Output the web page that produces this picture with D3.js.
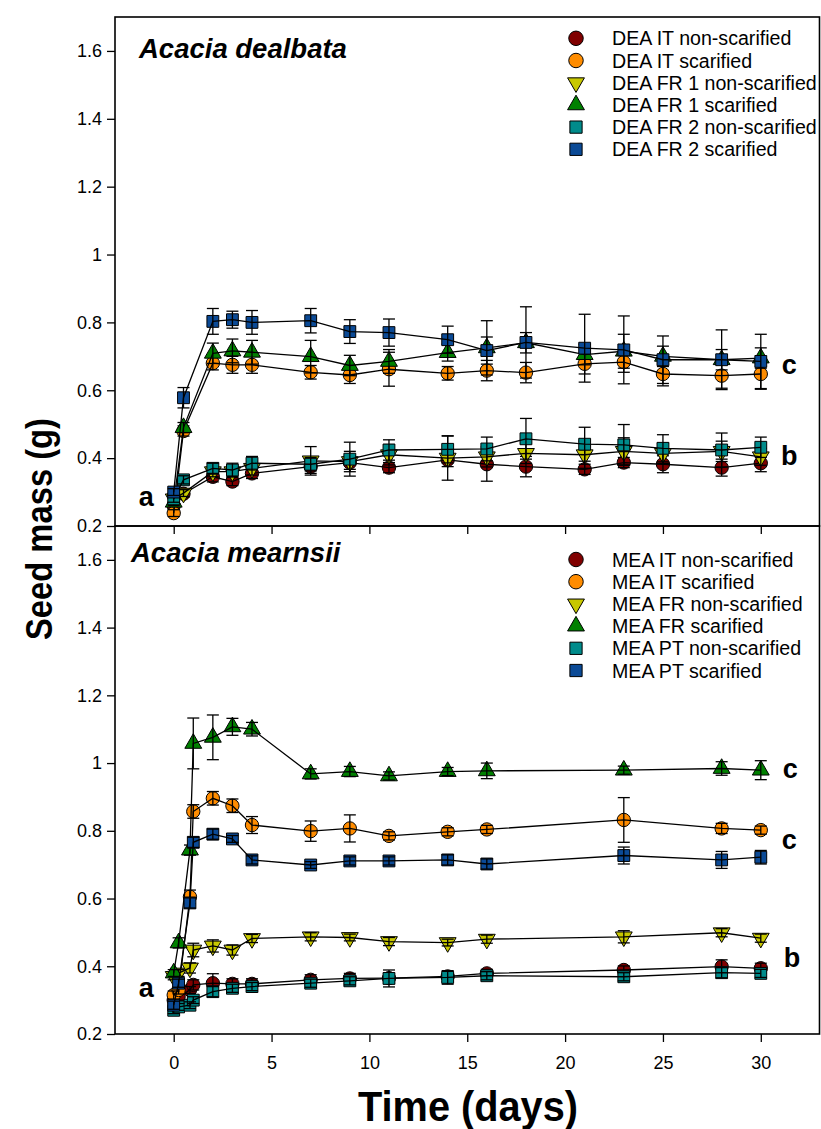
<!DOCTYPE html>
<html><head><meta charset="utf-8">
<script src="https://cdn.jsdelivr.net/npm/d3@7"></script>
<style>
body{margin:0;background:#fff}
svg{display:block}
text{font-family:"Liberation Sans",Arial,Helvetica,sans-serif}
</style>
</head><body>
<svg id="chart" width="821" height="1129"></svg>
<script>
// ---------- data ----------
const daysTop    = [0, 0.5, 2, 3, 4, 7, 9, 11, 14, 16, 18, 21, 23, 25, 28, 30];
const daysBottom = [0, 0.25, 0.83, 1, 2, 3, 4, 7, 9, 11, 14, 16, 23, 28, 30];

const xTicks = [0, 5, 10, 15, 20, 25, 30];
const yTicks = [0.2, 0.4, 0.6, 0.8, 1.0, 1.2, 1.4, 1.6];
const yTickLabels = ["0.2", "0.4", "0.6", "0.8", "1", "1.2", "1.4", "1.6"];

const namesTop = ["DEA IT non-scarified", "DEA IT scarified", "DEA FR 1 non-scarified",
                  "DEA FR 1 scarified", "DEA FR 2 non-scarified", "DEA FR 2 scarified"];
const namesBottom = ["MEA IT non-scarified", "MEA IT scarified", "MEA FR non-scarified",
                     "MEA FR scarified", "MEA PT non-scarified", "MEA PT scarified"];

// Acacia dealbata
const deaItNon      = [0.26, 0.295, 0.345, 0.331, 0.355, 0.375, 0.387, 0.372, 0.395, 0.382, 0.375, 0.367, 0.387, 0.382, 0.372, 0.385];
const deaItNonErr   = [0.01, 0.01, 0.015, 0.012, 0.015, 0.02, 0.02, 0.015, 0.02, 0.05, 0.03, 0.015, 0.015, 0.025, 0.025, 0.025];
const deaItScar     = [0.238, 0.48, 0.68, 0.675, 0.675, 0.653, 0.645, 0.662, 0.65, 0.658, 0.652, 0.678, 0.683, 0.648, 0.643, 0.648];
const deaItScarErr  = [0.01, 0.015, 0.02, 0.025, 0.025, 0.02, 0.025, 0.05, 0.02, 0.03, 0.03, 0.03, 0.03, 0.035, 0.037, 0.045];
const deaFr1Non     = [0.28, 0.297, 0.36, 0.36, 0.37, 0.392, 0.39, 0.41, 0.40, 0.404, 0.414, 0.41, 0.42, 0.414, 0.42, 0.404];
const deaFr1NonErr  = [0.01, 0.01, 0.015, 0.015, 0.02, 0.042, 0.03, 0.03, 0.065, 0.03, 0.03, 0.04, 0.04, 0.03, 0.03, 0.025];
const deaFr1Scar    = [0.27, 0.49, 0.709, 0.716, 0.712, 0.699, 0.673, 0.685, 0.711, 0.725, 0.74, 0.705, 0.715, 0.70, 0.69, 0.695];
const deaFr1ScarErr = [0.01, 0.015, 0.03, 0.035, 0.035, 0.048, 0.03, 0.035, 0.025, 0.08, 0.03, 0.03, 0.05, 0.03, 0.03, 0.03];
const deaFr2Non     = [0.28, 0.336, 0.37, 0.365, 0.385, 0.382, 0.397, 0.424, 0.426, 0.427, 0.457, 0.441, 0.439, 0.429, 0.424, 0.432];
const deaFr2NonErr  = [0.01, 0.012, 0.015, 0.02, 0.02, 0.02, 0.05, 0.03, 0.04, 0.035, 0.06, 0.05, 0.06, 0.04, 0.05, 0.03];
const deaFr2Scar    = [0.30, 0.578, 0.803, 0.808, 0.80, 0.805, 0.773, 0.77, 0.749, 0.717, 0.741, 0.724, 0.719, 0.69, 0.69, 0.685];
const deaFr2ScarErr = [0.01, 0.03, 0.038, 0.025, 0.035, 0.036, 0.035, 0.04, 0.04, 0.04, 0.105, 0.1, 0.1, 0.07, 0.088, 0.08];

// Acacia mearnsii
const meaItNon      = [0.30, 0.31, 0.33, 0.345, 0.35, 0.348, 0.348, 0.36, 0.364, 0.365, 0.37, 0.379, 0.389, 0.399, 0.394];
const meaItNonErr   = [0.01, 0.01, 0.01, 0.015, 0.028, 0.015, 0.015, 0.015, 0.015, 0.015, 0.015, 0.012, 0.012, 0.02, 0.015];
const meaItScar     = [0.315, 0.33, 0.605, 0.857, 0.896, 0.874, 0.817, 0.799, 0.807, 0.785, 0.797, 0.804, 0.832, 0.807, 0.802];
const meaItScarErr  = [0.012, 0.012, 0.02, 0.02, 0.02, 0.02, 0.025, 0.03, 0.04, 0.012, 0.012, 0.012, 0.066, 0.015, 0.012];
const meaFrNon      = [0.37, 0.38, 0.395, 0.448, 0.46, 0.448, 0.482, 0.487, 0.485, 0.473, 0.47, 0.48, 0.487, 0.499, 0.483];
const meaFrNonErr   = [0.01, 0.01, 0.015, 0.02, 0.018, 0.015, 0.012, 0.012, 0.01, 0.012, 0.01, 0.012, 0.018, 0.012, 0.012];
const meaFrScar     = [0.38, 0.469, 0.743, 1.058, 1.076, 1.107, 1.10, 0.968, 0.975, 0.962, 0.975, 0.977, 0.979, 0.984, 0.979];
const meaFrScarErr  = [0.01, 0.015, 0.015, 0.075, 0.066, 0.025, 0.02, 0.015, 0.015, 0.012, 0.012, 0.023, 0.012, 0.02, 0.028];
const meaPtNon      = [0.27, 0.28, 0.285, 0.30, 0.325, 0.335, 0.34, 0.35, 0.357, 0.364, 0.367, 0.372, 0.369, 0.381, 0.379];
const meaPtNonErr   = [0.01, 0.01, 0.01, 0.01, 0.015, 0.012, 0.012, 0.012, 0.012, 0.025, 0.02, 0.012, 0.012, 0.015, 0.012];
const meaPtScar     = [0.285, 0.35, 0.587, 0.766, 0.79, 0.776, 0.714, 0.699, 0.711, 0.711, 0.714, 0.702, 0.727, 0.714, 0.722];
const meaPtScarErr  = [0.012, 0.012, 0.015, 0.015, 0.015, 0.01, 0.012, 0.01, 0.012, 0.012, 0.015, 0.015, 0.025, 0.025, 0.02];

// significance letters (day, value)
const lettersTop    = [{t:"a", d:-1.4, v:0.287}, {t:"c", d:31.45, v:0.678}, {t:"b", d:31.45, v:0.409}];
const lettersBottom = [{t:"a", d:-1.4, v:0.338}, {t:"c", d:31.5, v:0.985}, {t:"c", d:31.45, v:0.776}, {t:"b", d:31.6, v:0.428}];

// ---------- style ----------
const colors = ["#800000", "#ff8c00", "#c8c800", "#008000", "#008b8b", "#0b4a96"];
const shapes = ["circle", "circle", "down", "up", "square", "square"];
const font = '"Liberation Sans",Arial,Helvetica,sans-serif';

const panels = [
  {title:"Acacia dealbata", top:17, bottom:526, days:daysTop, names:namesTop,
   values:[deaItNon, deaItScar, deaFr1Non, deaFr1Scar, deaFr2Non, deaFr2Scar],
   errs:[deaItNonErr, deaItScarErr, deaFr1NonErr, deaFr1ScarErr, deaFr2NonErr, deaFr2ScarErr],
   letters:lettersTop, legendTop:38.3, titleX:139, titleY:58, showXLabels:false},
  {title:"Acacia mearnsii", top:526, bottom:1034, days:daysBottom, names:namesBottom,
   values:[meaItNon, meaItScar, meaFrNon, meaFrScar, meaPtNon, meaPtScar],
   errs:[meaItNonErr, meaItScarErr, meaFrNonErr, meaFrScarErr, meaPtNonErr, meaPtScarErr],
   letters:lettersBottom, legendTop:559.5, titleX:131, titleY:562, showXLabels:true}
];

const svg = d3.select("#chart");
const left = 115, right = 819.5;
const x = d3.scaleLinear().domain([-3, 33]).range([left, right]);

function symbolPath(shape, size) {
  if (shape === "circle") return d3.symbol(d3.symbolCircle, size)();
  if (shape === "square") return d3.symbol(d3.symbolSquare, size)();
  return d3.symbol(d3.symbolTriangle, size * 0.82)();
}
function symbolTransform(shape, cx, cy) {
  return shape === "down" ? `translate(${cx},${cy}) rotate(180)` : `translate(${cx},${cy})`;
}

panels.forEach(p => {
  const y = d3.scaleLinear().domain([0.2, 1.7]).range([p.bottom, p.top]);
  const g = svg.append("g");

  // axes
  const yAxis = d3.axisLeft(y).tickValues(yTicks)
      .tickFormat((d, i) => yTickLabels[i]).tickSizeOuter(0).tickSize(8).tickPadding(5);
  const ya = g.append("g").attr("transform", `translate(${left},0)`).call(yAxis);
  ya.select(".domain").remove();
  ya.selectAll("line").attr("stroke", "#000").attr("stroke-width", 1.3);
  ya.selectAll("text").attr("font-size", 18).attr("font-family", font).attr("fill", "#000");

  const xAxis = d3.axisBottom(x).tickValues(xTicks).tickSize(8).tickSizeOuter(0).tickPadding(14)
      .tickFormat(p.showXLabels ? d3.format("d") : () => "");
  const xa = g.append("g").attr("transform", `translate(0,${p.bottom})`).call(xAxis);
  xa.select(".domain").remove();
  xa.selectAll("line").attr("stroke", "#000").attr("stroke-width", 1.3);
  xa.selectAll("text").attr("font-size", 18).attr("font-family", font).attr("fill", "#000");

  // frame
  g.append("rect").attr("x", left).attr("y", p.top)
    .attr("width", right - left).attr("height", p.bottom - p.top)
    .attr("fill", "none").attr("stroke", "#000").attr("stroke-width", 1.6);

  // title
  g.append("text").attr("x", p.titleX).attr("y", p.titleY)
    .attr("font-size", 27.5).attr("font-weight", "bold").attr("font-style", "italic")
    .attr("fill", "#000").text(p.title);

  // series
  const line = d3.line().x(d => x(d.d)).y(d => y(d.v));
  p.values.forEach((vals, si) => {
    const pts = vals.map((v, i) => ({d: p.days[i], v: v, e: p.errs[si][i]}));
    const sg = g.append("g");
    const shp = shapes[si];
    const size = shp === "circle" ? 140 : (shp === "square" ? 140 : 150);
    sg.selectAll("path.sym").data(pts).join("path").attr("class", "sym")
      .attr("d", symbolPath(shp, size))
      .attr("transform", d => symbolTransform(shp, x(d.d), y(d.v)))
      .attr("fill", colors[si]).attr("stroke", "#000").attr("stroke-width", 1);
    sg.append("path").datum(pts).attr("d", line)
      .attr("fill", "none").attr("stroke", "#000").attr("stroke-width", 1.3);
    const eb = sg.selectAll("g.eb").data(pts).join("g").attr("class", "eb")
      .attr("stroke", "#000").attr("stroke-width", 1.3);
    eb.append("line").attr("x1", d => x(d.d)).attr("x2", d => x(d.d))
      .attr("y1", d => y(d.v - d.e)).attr("y2", d => y(d.v + d.e));
    eb.append("line").attr("x1", d => x(d.d) - 6).attr("x2", d => x(d.d) + 6)
      .attr("y1", d => y(d.v + d.e)).attr("y2", d => y(d.v + d.e));
    eb.append("line").attr("x1", d => x(d.d) - 6).attr("x2", d => x(d.d) + 6)
      .attr("y1", d => y(d.v - d.e)).attr("y2", d => y(d.v - d.e));
  });

  // letters
  g.selectAll("text.letter").data(p.letters).join("text").attr("class", "letter")
    .attr("x", d => x(d.d)).attr("y", d => y(d.v)).attr("dy", "0.36em")
    .attr("text-anchor", "middle").attr("font-size", 27).attr("font-weight", "bold")
    .attr("fill", "#000").text(d => d.t);

  // legend
  const lg = g.append("g");
  p.names.forEach((n, i) => {
    const cy = p.legendTop + i * 22.2;
    const shp = shapes[i];
    lg.append("path").attr("d", symbolPath(shp, shp === "circle" ? 165 : 150))
      .attr("transform", symbolTransform(shp, 576, cy))
      .attr("fill", colors[i]).attr("stroke", "#000").attr("stroke-width", 1);
    lg.append("text").attr("x", 612).attr("y", cy).attr("dy", "0.36em")
      .attr("font-size", 19.6).attr("fill", "#000").text(n);
  });
});

// axis titles
svg.append("text").attr("transform", "translate(52,529) rotate(-90)")
  .attr("text-anchor", "middle").attr("font-size", 36).attr("font-weight", "bold")
  .attr("textLength", 222).attr("lengthAdjust", "spacingAndGlyphs")
  .attr("fill", "#000").text("Seed mass (g)");
svg.append("text").attr("x", 468).attr("y", 1121)
  .attr("text-anchor", "middle").attr("font-size", 42).attr("font-weight", "bold")
  .attr("textLength", 220).attr("lengthAdjust", "spacingAndGlyphs")
  .attr("fill", "#000").text("Time (days)");
</script>
</body></html>
